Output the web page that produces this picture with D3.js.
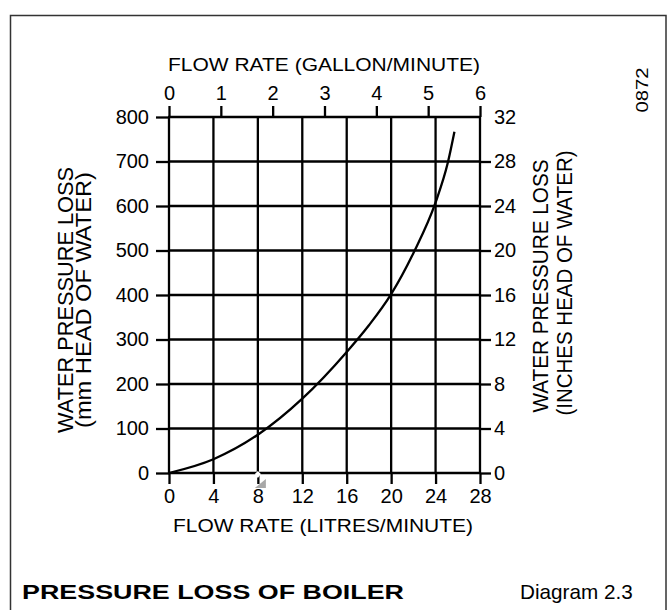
<!DOCTYPE html>
<meta charset="utf-8">

<head>
    <title>Pressure Loss Of Boiler</title>
</head>

<style>
    body {
        margin: 0;
        background: #fff;
    }

    svg text {
        font-family: "Liberation Sans", Arial, sans-serif;
        fill: #000;
    }
</style>

<script src="https://d3js.org/d3.v7.min.js"></script>

<body>
    <div id="chart"></div>
</body>

<script>

    // curve: flow (litres/minute) against loss (mm head of water)
    var flowLitres = [0, 4, 8, 12, 16, 18, 20, 22, 24, 25.1, 25.7];
    var lossMm = [0, 31, 86, 167, 272, 332, 402, 494, 608, 697, 767];

    // tick labels of the four axes
    var litreTicks = [0, 4, 8, 12, 16, 20, 24, 28];
    var gallonTicks = [0, 1, 2, 3, 4, 5, 6];
    var mmTicks = [0, 100, 200, 300, 400, 500, 600, 700, 800];
    var inchTicks = [0, 4, 8, 12, 16, 20, 24, 28, 32];

    var W = 671, H = 610;
    var plot = { left: 169, right: 480, top: 117, bottom: 473 };
    var lineW = 2.3;

    var svg = d3.select("#chart")
        .append("svg")
        .attr("width", W)
        .attr("height", H);

    // frame round the figure
    svg.append("rect")
        .attr("x", 10.5)
        .attr("y", 15.5)
        .attr("width", 655.5)
        .attr("height", 610)
        .attr("fill", "none")
        .attr("stroke", "#333")
        .attr("stroke-width", 1.5);

    // scales
    var x = d3.scaleLinear().domain([0, 28]).range([plot.left, plot.right]);
    var xGal = d3.scaleLinear().domain([0, 6]).range([plot.left, plot.right]);
    var y = d3.scaleLinear().domain([0, 800]).range([plot.bottom, plot.top]);
    var yIn = d3.scaleLinear().domain([0, 32]).range([plot.bottom, plot.top]);

    // grid
    svg.append("g")
        .selectAll("line")
        .data(litreTicks)
        .enter().append("line")
        .attr("x1", function (d) { return x(d); })
        .attr("x2", function (d) { return x(d); })
        .attr("y1", y(0))
        .attr("y2", y(800))
        .attr("stroke", "#000")
        .attr("stroke-width", lineW);

    svg.append("g")
        .selectAll("line")
        .data(mmTicks)
        .enter().append("line")
        .attr("x1", x(0) - 1)
        .attr("x2", x(28) + 1)
        .attr("y1", function (d) { return y(d); })
        .attr("y2", function (d) { return y(d); })
        .attr("stroke", "#000")
        .attr("stroke-width", lineW);

    // axes
    function styleAxis(g) {
        g.select(".domain").remove();
        g.selectAll(".tick line").attr("stroke", "#000").attr("stroke-width", lineW);
        g.selectAll("text")
            .attr("font-family", "Liberation Sans, Arial, sans-serif")
            .attr("font-size", "20px")
            .attr("fill", "#000");
    }

    var fmt = d3.format("d");

    svg.append("g")
        .attr("transform", "translate(0," + plot.bottom + ")")
        .call(d3.axisBottom(x).tickValues(litreTicks).tickFormat(fmt).tickSize(11).tickPadding(5).tickSizeOuter(0))
        .call(styleAxis);

    svg.append("g")
        .attr("transform", "translate(0," + plot.top + ")")
        .call(d3.axisTop(xGal).tickValues(gallonTicks).tickFormat(fmt).tickSize(11).tickPadding(6).tickSizeOuter(0))
        .call(styleAxis);

    svg.append("g")
        .attr("transform", "translate(" + plot.left + ",0)")
        .call(d3.axisLeft(y).tickValues(mmTicks).tickFormat(fmt).tickSize(13).tickPadding(7).tickSizeOuter(0))
        .call(styleAxis);

    var rightAxis = svg.append("g")
        .attr("transform", "translate(" + plot.right + ",0)")
        .call(d3.axisRight(yIn).tickValues(inchTicks).tickFormat(fmt).tickSize(11).tickPadding(3).tickSizeOuter(0))
        .call(styleAxis);
    // no outward tick at the top right corner
    rightAxis.selectAll(".tick").filter(function (d) { return d === 32; })
        .select("line").attr("stroke", "none");

    // scan marks below the 8 l/min line
    svg.append("path")
        .attr("d", "M" + (x(8) - 3) + "," + (plot.bottom + 1) + "l3,-3l3,3l-3,4z")
        .attr("fill", "#fff");
    svg.append("path")
        .attr("d", "M" + (x(8) - 3) + "," + (plot.bottom + 15) + "l11,-9v9z")
        .attr("fill", "#a8a8a8");

    // pressure loss curve
    var points = flowLitres.map(function (d, i) { return [d, lossMm[i]]; });
    svg.append("path")
        .datum(points)
        .attr("fill", "none")
        .attr("stroke", "#000")
        .attr("stroke-width", lineW)
        .attr("d", d3.line()
            .curve(d3.curveMonotoneX)
            .x(function (d) { return x(d[0]); })
            .y(function (d) { return y(d[1]); })
        );

    // axis titles
    svg.append("text")
        .attr("x", 324).attr("y", 71)
        .attr("text-anchor", "middle")
        .attr("font-size", "18.6px")
        .attr("textLength", 312).attr("lengthAdjust", "spacingAndGlyphs")
        .text("FLOW RATE (GALLON/MINUTE)");

    svg.append("text")
        .attr("x", 323).attr("y", 532)
        .attr("text-anchor", "middle")
        .attr("font-size", "18.6px")
        .attr("textLength", 300).attr("lengthAdjust", "spacingAndGlyphs")
        .text("FLOW RATE (LITRES/MINUTE)");

    function sideTitle(tx, ty, len, label) {
        svg.append("text")
            .attr("transform", "translate(" + tx + "," + ty + ") rotate(-90) scale(1,1.12)")
            .attr("text-anchor", "middle")
            .attr("font-size", "20.5px")
            .attr("textLength", len).attr("lengthAdjust", "spacingAndGlyphs")
            .text(label);
    }
    sideTitle(73, 300, 266, "WATER PRESSURE LOSS");
    sideTitle(91, 300, 256, "(mm HEAD OF WATER)");
    sideTitle(548, 286, 253, "WATER PRESSURE LOSS");
    sideTitle(572, 283, 265, "(INCHES HEAD OF WATER)");

    svg.append("text")
        .attr("transform", "translate(648,90) rotate(-90)")
        .attr("text-anchor", "middle")
        .attr("font-size", "17px")
        .attr("textLength", 45).attr("lengthAdjust", "spacingAndGlyphs")
        .text("0872");

    // caption
    svg.append("text")
        .attr("x", 22).attr("y", 599)
        .attr("font-size", "21px")
        .attr("font-weight", "bold")
        .attr("textLength", 382).attr("lengthAdjust", "spacingAndGlyphs")
        .text("PRESSURE LOSS OF BOILER");

    svg.append("text")
        .attr("x", 520).attr("y", 599)
        .attr("font-size", "20.7px")
        .text("Diagram 2.3");

</script>
